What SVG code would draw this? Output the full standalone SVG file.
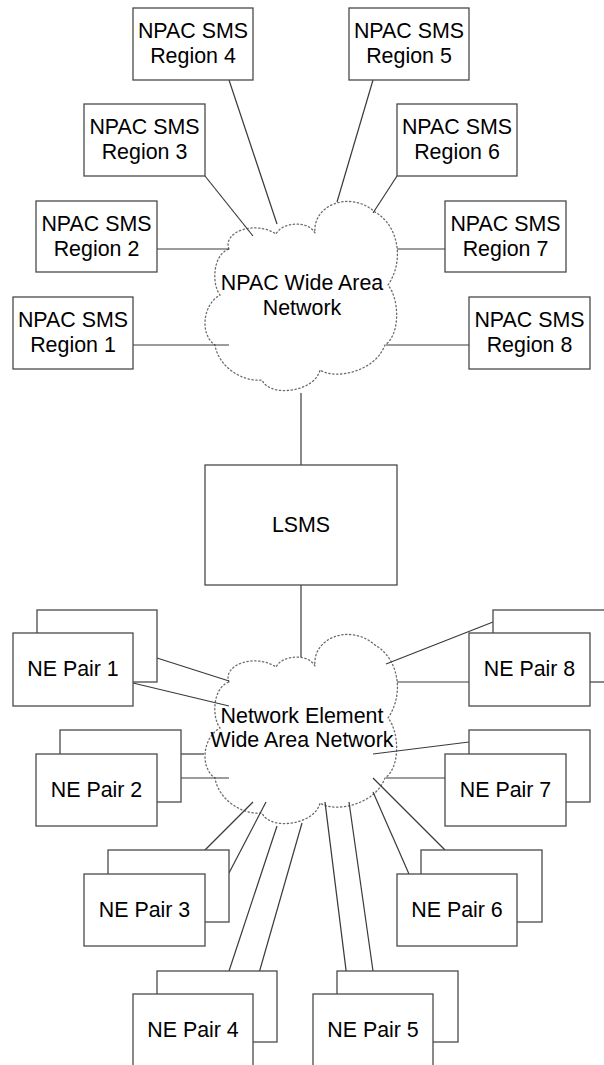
<svg xmlns="http://www.w3.org/2000/svg" xmlns:xlink="http://www.w3.org/1999/xlink" width="604" height="1065" viewBox="0 0 604 1065">
<style>
  .box { fill: #ffffff; stroke: #4a4a4a; stroke-width: 1.3; }
  .cloud { fill: #ffffff; stroke: #6a6a6a; stroke-width: 1.3; stroke-dasharray: 1.3 2.6; stroke-linecap: round; }
  .conn line { stroke: #3a3a3a; stroke-width: 1.2; }
  text { font-family: "Liberation Sans", Arial, sans-serif; font-size: 21.4px; fill: #000000; text-anchor: middle; }
</style>
<defs>
  <path id="cloudShape" d="M 229,249 C 222,232 255,220 276,234 C 282,222 308,220 315,233 C 312,205 350,190 375,212 C 398,225 405,260 388,285 C 400,300 400,335 385,345 C 375,372 335,380 320,370 C 315,392 270,398 262,380 C 240,382 218,365 215,345 C 200,335 202,305 220,295 C 212,285 212,255 229,249 Z"/>
</defs>
<rect width="604" height="1065" fill="#ffffff"/>

<g id="npac-wan">
  <use xlink:href="#cloudShape" href="#cloudShape" class="cloud"/>
</g>
<g id="ne-wan">
  <use xlink:href="#cloudShape" href="#cloudShape" class="cloud" transform="translate(0,433)"/>
</g>

<g id="connectors" class="conn">
  <line x1="229" y1="80" x2="277" y2="224"/>
  <line x1="205" y1="176" x2="253" y2="236"/>
  <line x1="373" y1="80" x2="337" y2="202"/>
  <line x1="397" y1="176" x2="373" y2="213"/>
  <line x1="157" y1="249" x2="229" y2="249"/>
  <line x1="133" y1="345" x2="229" y2="345"/>
  <line x1="397" y1="249" x2="445" y2="249"/>
  <line x1="386" y1="345" x2="469" y2="345"/>
  <line x1="301" y1="393" x2="301" y2="465"/>
  <line x1="301" y1="585" x2="301" y2="657"/>
  <line x1="157" y1="658" x2="229" y2="681"/>
  <line x1="133" y1="683" x2="229" y2="706"/>
  <line x1="181" y1="754" x2="204" y2="754"/>
  <line x1="157" y1="778" x2="229" y2="778"/>
  <line x1="493" y1="622" x2="386" y2="664"/>
  <line x1="397" y1="682" x2="469" y2="682"/>
  <line x1="469" y1="742" x2="373" y2="754"/>
  <line x1="386" y1="778" x2="445" y2="778"/>
  <line x1="181" y1="874" x2="253" y2="802"/>
  <line x1="229" y1="873" x2="266" y2="802"/>
  <line x1="229" y1="971" x2="277" y2="826"/>
  <line x1="253" y1="994" x2="302" y2="823"/>
  <line x1="349" y1="994" x2="325" y2="802"/>
  <line x1="373" y1="971" x2="349" y2="802"/>
  <line x1="409" y1="874" x2="373" y2="792"/>
  <line x1="445" y1="850" x2="373" y2="778"/>
</g>

<g id="cloud-labels">
  <text x="302" y="290">NPAC Wide Area</text>
  <text x="302" y="315">Network</text>
  <text x="302" y="723">Network Element</text>
  <text x="302" y="747">Wide Area Network</text>
</g>

<g id="region4"><rect class="box" x="133" y="8" width="120" height="72"/><text x="193" y="38">NPAC SMS</text><text x="193" y="63">Region 4</text></g>
<g id="region5"><rect class="box" x="349" y="8" width="120" height="72"/><text x="409" y="38">NPAC SMS</text><text x="409" y="63">Region 5</text></g>
<g id="region3"><rect class="box" x="84" y="104" width="121" height="72"/><text x="144.5" y="134">NPAC SMS</text><text x="144.5" y="159">Region 3</text></g>
<g id="region6"><rect class="box" x="397" y="104" width="120" height="72"/><text x="457" y="134">NPAC SMS</text><text x="457" y="159">Region 6</text></g>
<g id="region2"><rect class="box" x="36" y="201" width="121" height="71"/><text x="96.5" y="231">NPAC SMS</text><text x="96.5" y="256">Region 2</text></g>
<g id="region7"><rect class="box" x="445" y="201" width="121" height="71"/><text x="505.5" y="231">NPAC SMS</text><text x="505.5" y="256">Region 7</text></g>
<g id="region1"><rect class="box" x="13" y="297" width="120" height="72"/><text x="73" y="327">NPAC SMS</text><text x="73" y="352">Region 1</text></g>
<g id="region8"><rect class="box" x="469" y="297" width="121" height="72"/><text x="529.5" y="327">NPAC SMS</text><text x="529.5" y="352">Region 8</text></g>

<g id="lsms"><rect class="box" x="205" y="465" width="192" height="120"/><text x="301" y="532">LSMS</text></g>

<g id="ne-pair-1"><rect class="box" x="37" y="610" width="120" height="72"/><rect class="box" x="13" y="633" width="120" height="73"/><text x="73" y="676">NE Pair 1</text></g>
<g id="ne-pair-2"><rect class="box" x="60" y="730" width="121" height="72"/><rect class="box" x="36" y="754" width="121" height="72"/><text x="96.5" y="797">NE Pair 2</text></g>
<g id="ne-pair-8"><rect class="box" x="493" y="610" width="121" height="72"/><rect class="box" x="469" y="633" width="121" height="73"/><text x="529.5" y="676">NE Pair 8</text></g>
<g id="ne-pair-7"><rect class="box" x="469" y="730" width="121" height="72"/><rect class="box" x="445" y="754" width="121" height="72"/><text x="505.5" y="797">NE Pair 7</text></g>
<g id="ne-pair-3"><rect class="box" x="108" y="850" width="121" height="72"/><rect class="box" x="84" y="874" width="121" height="72"/><text x="144.5" y="917">NE Pair 3</text></g>
<g id="ne-pair-6"><rect class="box" x="421" y="850" width="121" height="72"/><rect class="box" x="397" y="874" width="120" height="72"/><text x="457" y="917">NE Pair 6</text></g>
<g id="ne-pair-4"><rect class="box" x="157" y="971" width="120" height="71"/><rect class="box" x="133" y="994" width="120" height="74"/><text x="193" y="1037">NE Pair 4</text></g>
<g id="ne-pair-5"><rect class="box" x="337" y="971" width="121" height="71"/><rect class="box" x="313" y="994" width="120" height="74"/><text x="373" y="1037">NE Pair 5</text></g>
</svg>
